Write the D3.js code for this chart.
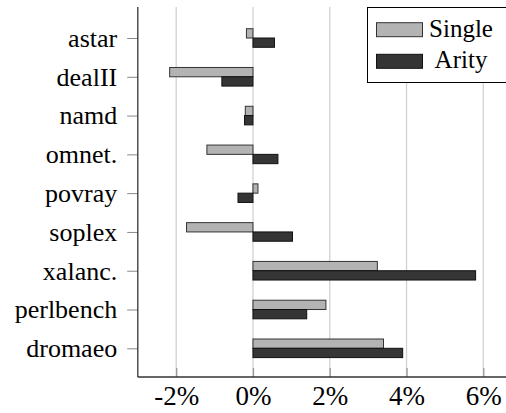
<!DOCTYPE html>
<html>
<head>
<meta charset="utf-8">
<script src="https://cdn.jsdelivr.net/npm/d3@7/dist/d3.min.js"></script>
<style>
html,body{margin:0;padding:0;background:#fff;}
svg{display:block;}
svg text{font-family:"Liberation Serif","Times New Roman",Times,serif !important;fill:#000;}
</style>
</head>
<body>
<svg id="chart" width="506" height="413" font-family="Liberation Serif, serif"></svg>
<script>
const categories = ["astar","dealII","namd","omnet.","povray","soplex","xalanc.","perlbench","dromaeo"];
const single = [-0.17,-2.17,-0.20,-1.20,0.13,-1.73,3.24,1.90,3.40];
const arity  = [0.56,-0.81,-0.22,0.65,-0.39,1.03,5.80,1.40,3.90];
const seriesNames = ["Single","Arity"];
const xTicks = [-2,0,2,4,6];

(function(){
const svg = d3.select("#chart");
const plotTop = 7, plotBottom = 377, rightEdge = 506;
const x = d3.scaleLinear().domain([-3,6]).range([137.8,483.3]);
const y = d3.scalePoint().domain(categories).range([38,348.3]);
const barH = 9.3;

// grid
svg.append("g").selectAll("line").data(xTicks).join("line")
  .attr("x1",d=>x(d)).attr("x2",d=>x(d)).attr("y1",plotTop).attr("y2",plotBottom)
  .attr("stroke","#d2d2d2").attr("stroke-width",1.3);

// bars
const bars = svg.append("g");
bars.selectAll("rect.s").data(categories).join("rect").attr("class","s")
  .attr("x",(d,i)=>x(Math.min(0,single[i])))
  .attr("width",(d,i)=>Math.abs(x(single[i])-x(0)))
  .attr("y",d=>y(d)-barH).attr("height",barH)
  .attr("fill","#b3b3b3").attr("stroke","#333").attr("stroke-width",1);
bars.selectAll("rect.a").data(categories).join("rect").attr("class","a")
  .attr("x",(d,i)=>x(Math.min(0,arity[i])))
  .attr("width",(d,i)=>Math.abs(x(arity[i])-x(0)))
  .attr("y",d=>y(d)).attr("height",barH)
  .attr("fill","#353535").attr("stroke","#111").attr("stroke-width",1);

// x axis
const xa = svg.append("g").attr("transform",`translate(0,${plotBottom})`)
  .call(d3.axisBottom(x).tickValues(xTicks).tickSize(-9).tickPadding(9).tickFormat(d=>d+"%"));
xa.attr("font-family",null).attr("font-size",null);
xa.select(".domain").remove();
xa.selectAll(".tick line").attr("stroke","#999").attr("stroke-width",1.3);
xa.selectAll("text").style("font-size","27px").attr("fill","#000");
svg.append("line").attr("x1",x(-3)).attr("x2",rightEdge).attr("y1",plotBottom).attr("y2",plotBottom)
  .attr("stroke","#333").attr("stroke-width",1.3);

// y axis
const ya = svg.append("g").attr("transform",`translate(${x(-3)},0)`)
  .call(d3.axisLeft(y).tickSize(10.6).tickPadding(10));
ya.attr("font-family",null).attr("font-size",null);
ya.select(".domain").remove();
ya.selectAll(".tick line").attr("stroke","#888").attr("stroke-width",1);
ya.selectAll("text").style("font-size","26px").attr("fill","#000");
svg.append("line").attr("x1",x(-3)).attr("x2",x(-3)).attr("y1",plotTop).attr("y2",plotBottom)
  .attr("stroke","#333").attr("stroke-width",1.3);

// legend
const lg = svg.append("g");
lg.append("rect").attr("x",367.5).attr("y",7.5).attr("width",150).attr("height",75)
  .attr("fill","#fff").attr("stroke","#000").attr("stroke-width",1);
const fills = ["#b3b3b3","#353535"], strokes = ["#333","#111"];
const swY = [22.7,54.3], txY = [36.7,68.3];
seriesNames.forEach((n,i)=>{
  lg.append("rect").attr("x",376.5).attr("y",swY[i]).attr("width",46).attr("height",14)
    .attr("fill",fills[i]).attr("stroke",strokes[i]).attr("stroke-width",1);
  lg.append("text").attr("x",461).attr("y",txY[i]).attr("text-anchor","middle")
    .style("font-size","25px").text(n);
});
})();
</script>
</body>
</html>
